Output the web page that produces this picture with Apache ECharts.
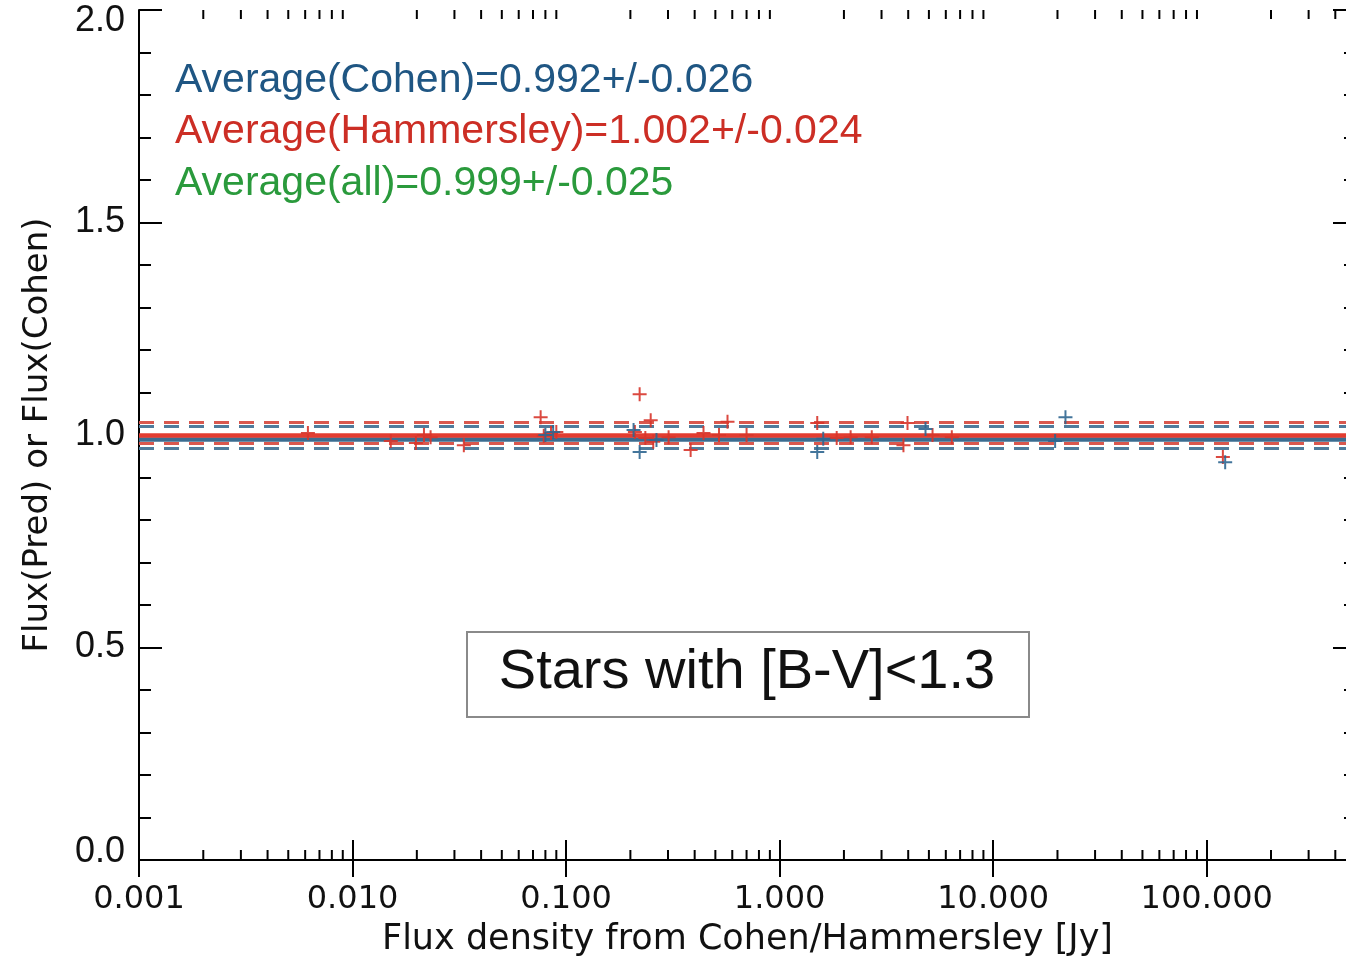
<!DOCTYPE html>
<html>
<head>
<meta charset="utf-8">
<script src="https://cdn.jsdelivr.net/npm/echarts@6/dist/echarts.min.js"></script>
<style>
  html, body { margin: 0; padding: 0; background: #ffffff; }
  #chart { width: 1346px; height: 961px; }
</style>
</head>
<body>
<div id="chart"></div>
<script>
// Tick labels of the logarithmic flux axis (one per decade, from 0.001)
const xTickLabels = ['0.001', '0.010', '0.100', '1.000', '10.000', '100.000'];
const yTickLabels = ['0.0', '0.5', '1.0', '1.5', '2.0'];

// Hammersley stars: flux density [Jy] and predicted/catalogue flux ratio
const hamFlux  = [0.00618, 0.0151, 0.0198, 0.0216, 0.0232, 0.0332, 0.0760, 0.0786, 0.085, 0.090,
                  0.221, 0.249, 0.210, 0.235, 0.256, 0.302, 0.383, 0.44, 0.52, 0.570,
                  0.70, 1.50, 1.85, 2.15, 2.7, 3.97, 3.8, 5.2, 6.4, 119];
const hamRatio = [1.005, 0.986, 0.981, 1.000, 0.995, 0.976, 1.042, 0.998, 1.005, 1.007,
                  1.096, 1.035, 1.007, 0.993, 0.984, 0.995, 0.965, 1.005, 1.000, 1.031,
                  1.000, 1.028, 0.993, 0.995, 0.995, 1.028, 0.976, 1.000, 0.995, 0.948];

// Cohen stars: flux density [Jy] and flux ratio
const cohenFlux  = [0.080, 0.087, 0.207, 0.221, 0.265, 1.50, 1.60, 4.82, 19.5, 21.8, 122];
const cohenRatio = [1.000, 1.007, 1.012, 0.960, 0.988, 0.960, 0.991, 1.014, 0.986, 1.042, 0.936];

// Mean ratio and scatter for each sample
const avgCohen = [0.992, 0.026];
const avgHam   = [1.002, 0.024];
const avgAll   = [0.999, 0.025];

const RED = '#d7352b';
const BLUE = '#2f6690';
const GREEN = '#2a9a3c';

// Minor tick positions of the log axis (2..9 within each decade)
const minorX = [];
for (let e = -3; e <= 2; e++) {
  for (let m = 2; m <= 9; m++) {
    const v = m * Math.pow(10, e);
    if (v <= 500) minorX.push([v, 1]);
  }
}

const plusPath = 'path://M-1,-7H1V-1H7V1H1V7H-1V1H-7V-1H-1Z';

function pairs(xs, ys) { return xs.map((x, i) => [x, ys[i]]); }
function fmt(v) { return v.toFixed(3); }

const chart = echarts.init(document.getElementById('chart'), null, { renderer: 'canvas' });

const axisLineStyle = { lineStyle: { color: '#000', width: 2 } };

function xLabel(v) {
  const k = Math.round(Math.log10(v)) + 3;
  if (Math.abs(Math.log10(v) + 3 - k) > 1e-6 || k < 0 || k >= xTickLabels.length) return '';
  return xTickLabels[k];
}

function yLabel(v) {
  const idx = Math.round(v / 0.5);
  const t = yTickLabels[idx];
  if (idx === 4) return '{t|' + t + '}';
  if (idx === 0) return '{b|' + t + '}';
  return '{n|' + t + '}';
}
const yFont = { fontFamily: 'Liberation Sans', fontSize: 36, color: '#111' };

const dashBlue = { color: '#4f7c9c', width: 3, type: [15, 10] };
const dashRed  = { color: '#d9584e', width: 3, type: [15, 10] };

chart.setOption({
  backgroundColor: '#ffffff',
  animation: false,
  // the plot box runs slightly past the right edge of the canvas
  grid: { left: 139, top: 10, width: 1217, height: 850, containLabel: false, outerBoundsMode: 'none' },
  xAxis: [
    {
      type: 'log', logBase: 10, min: 0.001, max: 500, position: 'bottom',
      name: 'Flux density from Cohen/Hammersley [Jy]',
      nameLocation: 'middle', nameGap: 62,
      nameTextStyle: { fontFamily: 'DejaVu Sans', fontSize: 35, color: '#111' },
      axisLine: axisLineStyle,
      axisTick: { inside: true, length: 20, lineStyle: { color: '#000', width: 2 } },
      axisLabel: { formatter: xLabel, margin: 24, fontFamily: 'DejaVu Sans', fontSize: 32, color: '#111',
                   showMaxLabel: false },
      splitLine: { show: false }
    },
    {
      type: 'log', logBase: 10, min: 0.001, max: 500, position: 'top',
      axisLine: axisLineStyle,
      axisTick: { inside: true, length: 17, lineStyle: { color: '#000', width: 2 } },
      axisLabel: { show: false },
      splitLine: { show: false }
    }
  ],
  yAxis: [
    {
      type: 'value', min: 0, max: 2, interval: 0.5, position: 'left',
      name: 'Flux(Pred) or Flux(Cohen)',
      nameLocation: 'middle', nameGap: 84, nameRotate: 90,
      nameTextStyle: { fontFamily: 'DejaVu Sans', fontSize: 34, color: '#111' },
      axisLine: axisLineStyle,
      axisTick: { inside: true, length: 23, lineStyle: { color: '#000', width: 2 } },
      minorTick: { show: true, splitNumber: 5, length: 12, lineStyle: { color: '#000', width: 2 } },
      axisLabel: {
        formatter: yLabel, margin: 14, ...yFont,
        rich: {
          n: { ...yFont },
          t: { ...yFont, padding: [22, 0, 0, 0] },
          b: { ...yFont, padding: [0, 0, 16, 0] }
        }
      },
      splitLine: { show: false },
      minorSplitLine: { show: false }
    },
    {
      type: 'value', min: 0, max: 2, interval: 0.5, position: 'right',
      axisLine: axisLineStyle,
      axisTick: { inside: true, length: 23, lineStyle: { color: '#000', width: 2 } },
      minorTick: { show: true, splitNumber: 5, length: 12, lineStyle: { color: '#000', width: 2 } },
      axisLabel: { show: false },
      splitLine: { show: false },
      minorSplitLine: { show: false }
    }
  ],
  series: [
    {
      // minor ticks of the logarithmic axis, bottom and top
      type: 'custom', xAxisIndex: 0, yAxisIndex: 0, silent: true, z: 5,
      data: minorX,
      encode: { x: 0, y: 1 },
      renderItem: function (params, api) {
        const cs = params.coordSys;
        const x = api.coord([api.value(0), 1])[0];
        const yb = cs.y + cs.height;
        return {
          type: 'group',
          children: [
            { type: 'line', shape: { x1: x, y1: yb, x2: x, y2: yb - 10 }, style: { stroke: '#000', lineWidth: 2 } },
            { type: 'line', shape: { x1: x, y1: cs.y, x2: x, y2: cs.y + 9 }, style: { stroke: '#000', lineWidth: 2 } }
          ]
        };
      }
    },
    {
      // mean ratios (solid) and +/- one sigma (dashed); Hammersley drawn over Cohen
      type: 'line', data: [], xAxisIndex: 0, yAxisIndex: 0, z: 3,
      markLine: {
        silent: true, symbol: 'none', label: { show: false },
        data: [
          { yAxis: avgCohen[0] + avgCohen[1], lineStyle: dashBlue },
          { yAxis: avgCohen[0] - avgCohen[1], lineStyle: dashBlue },
          { yAxis: avgHam[0] + avgHam[1], lineStyle: dashRed },
          { yAxis: avgHam[0] - avgHam[1], lineStyle: dashRed },
          { yAxis: avgCohen[0], lineStyle: { color: '#3b6c90', width: 4.5, type: 'solid' } },
          { yAxis: avgHam[0], lineStyle: { color: '#e23c30', width: 4.5, type: 'solid' } }
        ]
      }
    },
    {
      name: 'Hammersley', type: 'scatter', xAxisIndex: 0, yAxisIndex: 0, z: 6,
      data: pairs(hamFlux, hamRatio),
      symbol: plusPath, symbolSize: 14,
      itemStyle: { color: RED, opacity: 0.9 }
    },
    {
      name: 'Cohen', type: 'scatter', xAxisIndex: 0, yAxisIndex: 0, z: 7,
      data: pairs(cohenFlux, cohenRatio),
      symbol: plusPath, symbolSize: 14,
      itemStyle: { color: BLUE, opacity: 0.9 }
    }
  ],
  graphic: [
    {
      type: 'text', left: 175, top: 60, z: 10,
      style: { text: 'Average(Cohen)=' + fmt(avgCohen[0]) + '+/-' + fmt(avgCohen[1]),
               font: '41px "Liberation Sans"', fill: '#1f5683' }
    },
    {
      type: 'text', left: 175, top: 111, z: 10,
      style: { text: 'Average(Hammersley)=' + fmt(avgHam[0]) + '+/-' + fmt(avgHam[1]),
               font: '41px "Liberation Sans"', fill: '#cc2e25' }
    },
    {
      type: 'text', left: 175, top: 163, z: 10,
      style: { text: 'Average(all)=' + fmt(avgAll[0]) + '+/-' + fmt(avgAll[1]),
               font: '41px "Liberation Sans"', fill: GREEN }
    },
    {
      type: 'rect', left: 466, top: 631, z: 10,
      shape: { width: 562, height: 85 },
      style: { fill: '#ffffff', stroke: '#8a8a8a', lineWidth: 2 }
    },
    {
      type: 'text', z: 11, x: 747, y: 673,
      style: { text: 'Stars with [B-V]<1.3', font: '56px "Liberation Sans"', fill: '#111',
               textAlign: 'center', textVerticalAlign: 'middle' }
    }
  ]
});
</script>
</body>
</html>
